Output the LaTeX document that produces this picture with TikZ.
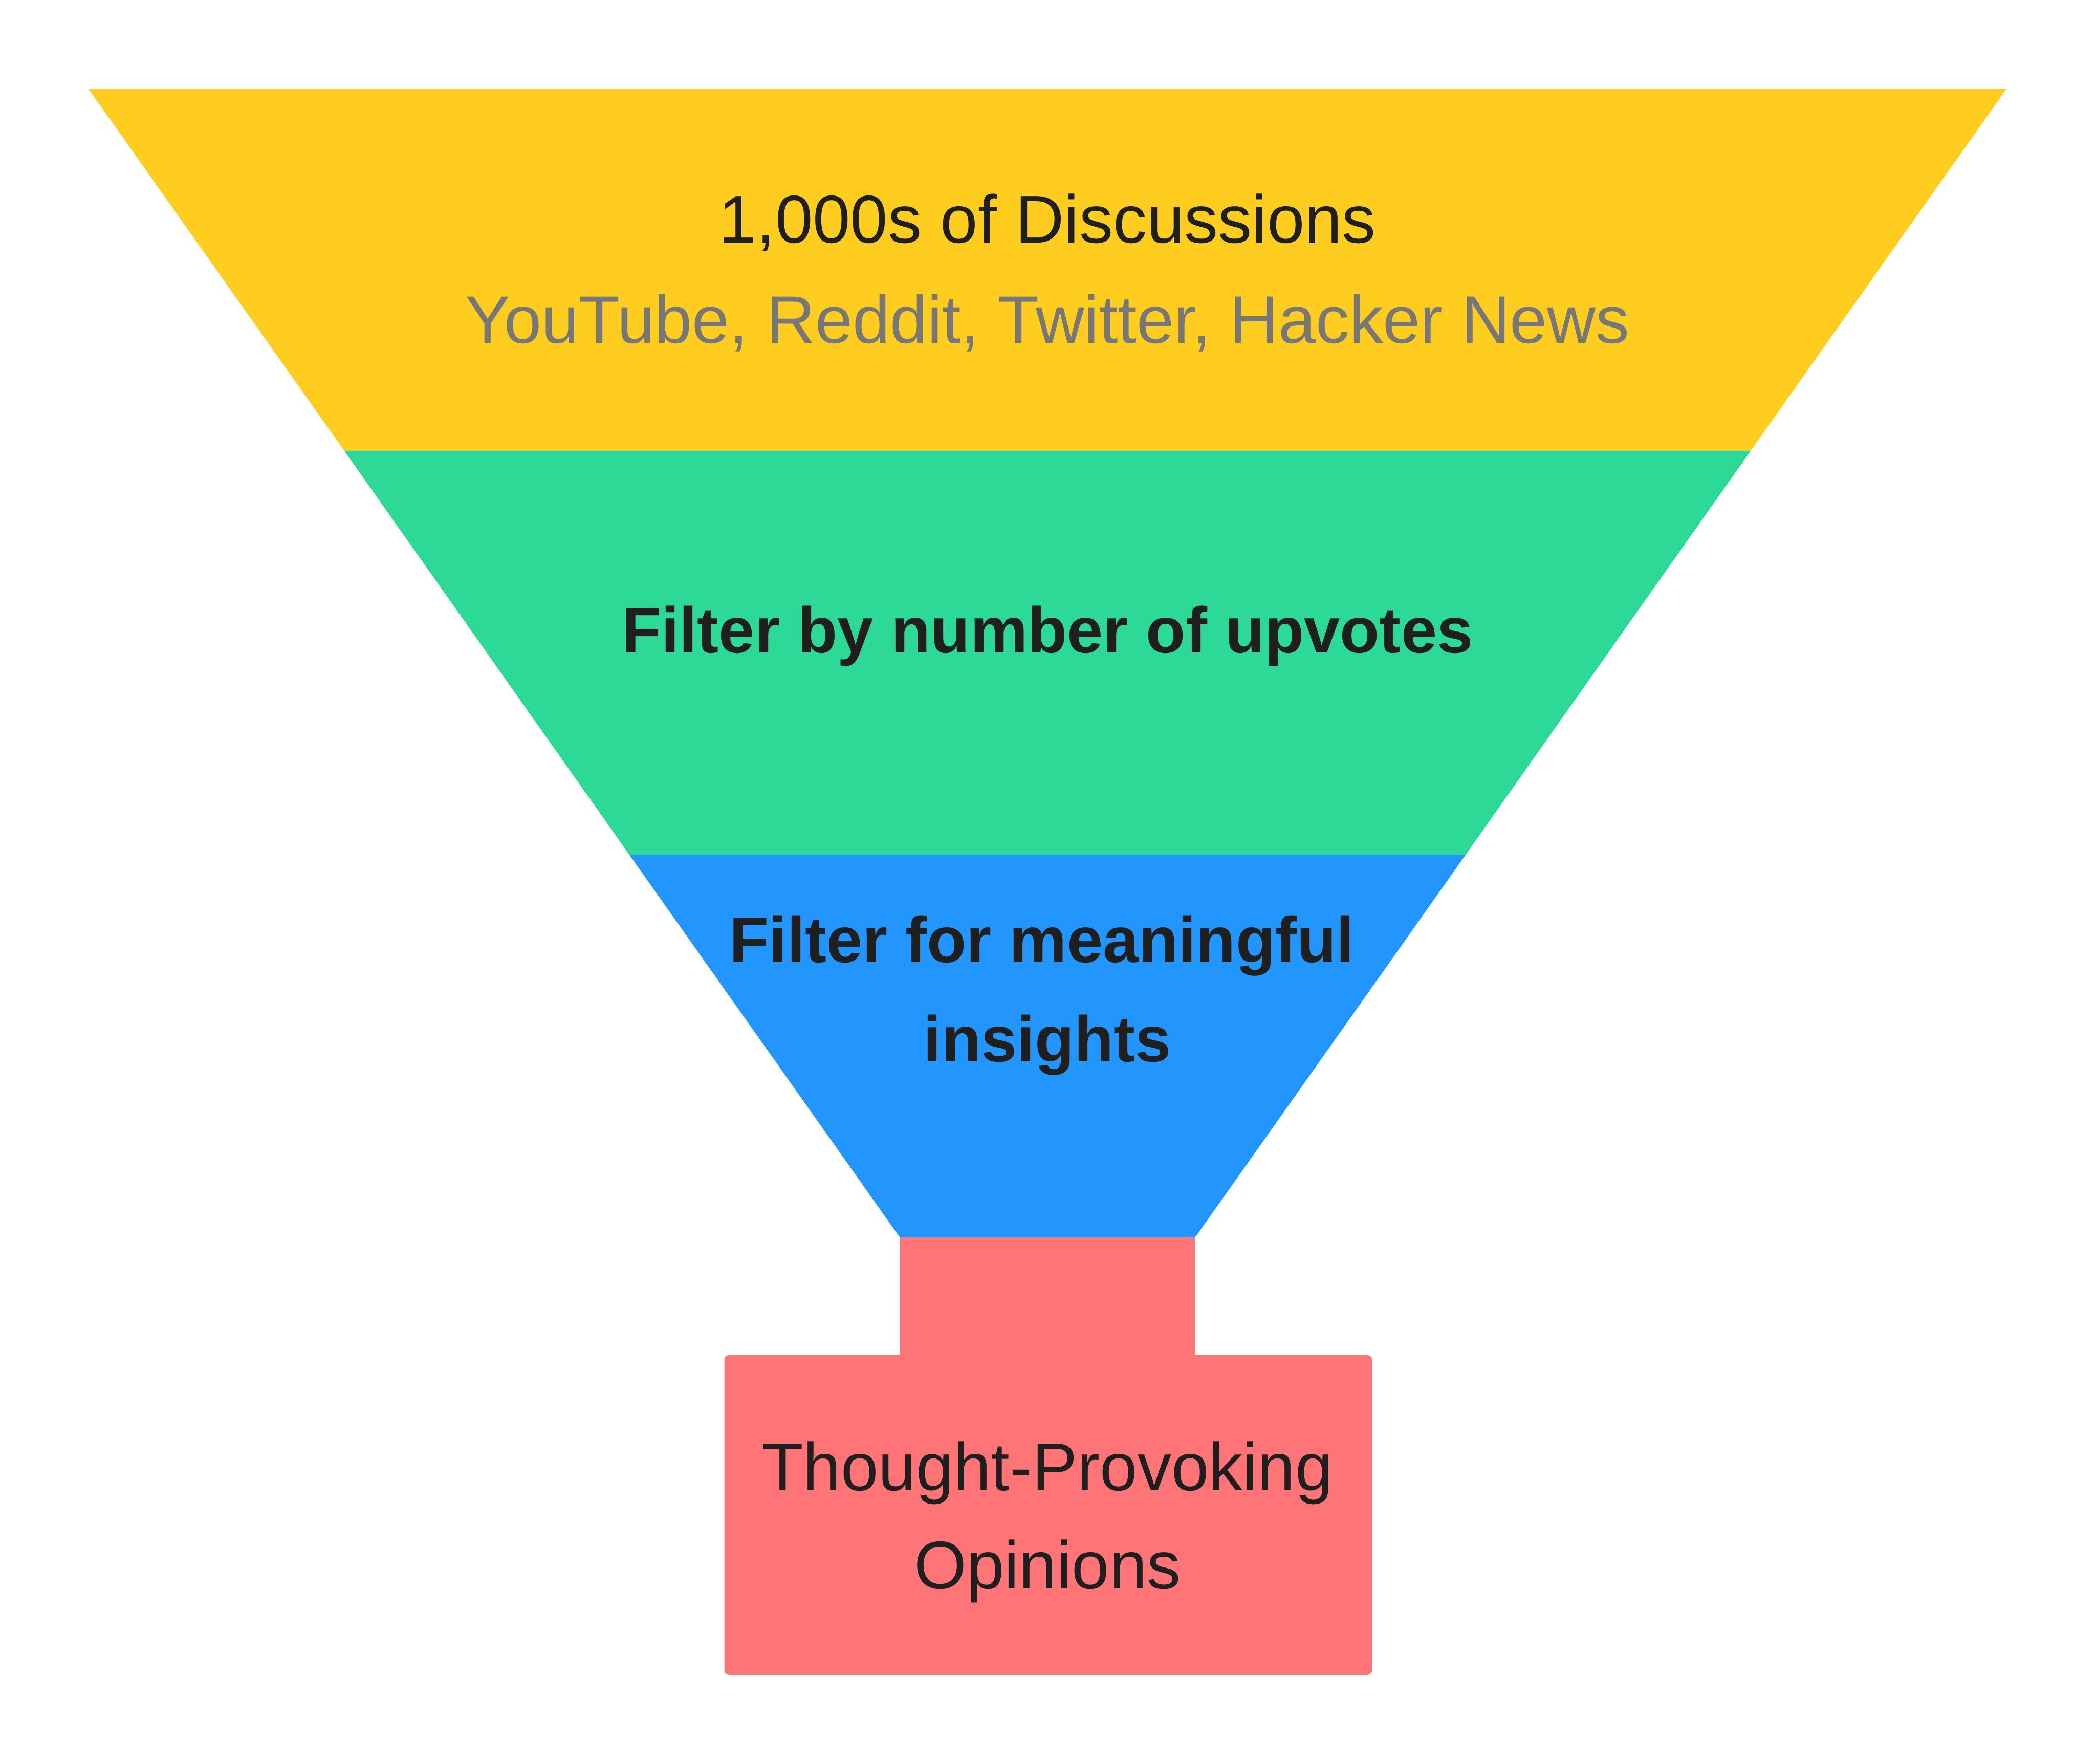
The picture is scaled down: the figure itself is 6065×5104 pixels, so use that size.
\documentclass[tikz,border=0pt]{standalone}
\usepackage{fontspec}
\setmainfont{Liberation Sans}
\definecolor{cyellow}{HTML}{FECD1F}
\definecolor{cgreen}{HTML}{2DD996}
\definecolor{cblue}{HTML}{2396FE}
\definecolor{cred}{HTML}{FF7577}
\definecolor{ctext}{HTML}{1F1F1F}
\definecolor{cgray}{HTML}{777777}
\tikzset{
  reglabel/.style={anchor=base, inner sep=0pt, text=ctext, font=\fontsize{19.55}{23}\selectfont},
  graylabel/.style={anchor=base, inner sep=0pt, text=cgray, font=\fontsize{19.45}{23}\selectfont},
  boldlabel/.style={anchor=base, inner sep=0pt, text=ctext, font=\fontsize{18.7}{23}\selectfont\bfseries},
}
\begin{document}
\begin{tikzpicture}[x=0.1pt,y=-0.1pt]
\useasboundingbox (0,0) rectangle (6065,5104);
% funnel bands
\fill[cyellow] (256,257) -- (5806,257) -- (5066,1304) -- (996,1304) -- cycle;
\fill[cgreen] (996,1304) -- (5066,1304) -- (4241,2473) -- (1821,2473) -- cycle;
\fill[cblue] (1821,2473) -- (4241,2473) -- (3457,3582) -- (2605,3582) -- cycle;
% stem and output box
\fill[cred] (2605,3580) rectangle (3457,3930);
\fill[cred, rounded corners=1.3pt] (2096,3921) rectangle (3970,4846);
% texts
\node[reglabel] (t1) at (3031,703) {1,000s of Discussions};
\node[graylabel] (t2) at (3031,993) {YouTube, Reddit, Twitter, Hacker News};
\node[boldlabel] (t3) at (3031,1888) {Filter by number of upvotes};
\node[boldlabel] (t4a) at (3015,2784) {Filter for meaningful};
\node[boldlabel] (t4b) at (3031,3071) {insights};
\node[reglabel] (t5a) at (3031,4312) {Thought-Provoking};
\node[reglabel] (t5b) at (3031,4597) {Opinions};
\end{tikzpicture}
\end{document}
